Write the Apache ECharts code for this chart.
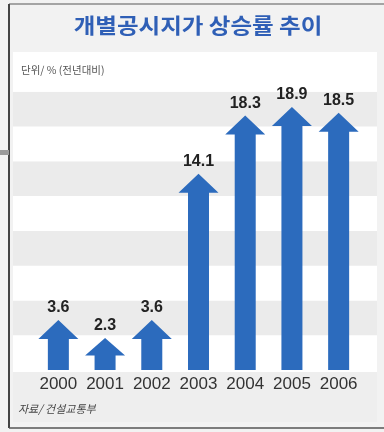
<!DOCTYPE html>
<html>
<head>
<meta charset="utf-8">
<script src="https://cdn.jsdelivr.net/npm/echarts@6/dist/echarts.min.js"></script>
<style>
html,body{margin:0;padding:0;background:#f2f2f2;}
#c{width:384px;height:432px;}
</style>
</head>
<body>
<div id="c"></div>
<script>
const years = ['2000','2001','2002','2003','2004','2005','2006'];
const rates = [3.6, 2.3, 3.6, 14.1, 18.3, 18.9, 18.5];
const titleText = '개별공시지가 상승률 추이';
const unitText = '단위/ % (전년대비)';
const sourceText = '자료/ 건설교통부';

const chart = echarts.init(document.getElementById('c'));
const TOP = 57, BOTTOM = 62;
const sans = '"Liberation Sans", Arial, sans-serif';
const kr = '"Noto Sans CJK KR", sans-serif';

chart.setOption({
  backgroundColor: '#f2f2f2',
  animation: false,
  graphic: [
    {type: 'rect', z: -10, shape: {x: 13, y: 52, width: 364, height: 320}, style: {fill: '#ffffff'}},
    {type: 'rect', z: -10, shape: {x: 13, y: 372, width: 364, height: 50}, style: {fill: '#eeeeee'}},
    {type: 'line', z: 10, shape: {x1: 9, y1: 4, x2: 384, y2: 4}, style: {stroke: '#8a8a8a', lineWidth: 1.5}},
    {type: 'line', z: 10, shape: {x1: 9, y1: 4, x2: 9, y2: 428}, style: {stroke: '#444444', lineWidth: 2}},
    {type: 'line', z: 10, shape: {x1: 9, y1: 428, x2: 384, y2: 428}, style: {stroke: '#555555', lineWidth: 1.5}},
    {type: 'rect', z: 10, shape: {x: 0, y: 150, width: 9, height: 5}, style: {fill: '#9a9a9a'}},
    {type: 'text', z: 10, x: 198, y: 25, scaleX: 1.12,
     style: {text: titleText, fill: '#2f5fb6', fontSize: 21, fontWeight: 'bold', fontFamily: kr, align: 'center', verticalAlign: 'middle'}},
    {type: 'text', z: 10, left: 21, top: 65, style: {text: unitText, fill: '#555555', fontSize: 10.5, fontFamily: kr}},
    {type: 'text', z: 10, left: 18, top: 403, style: {text: sourceText, fill: '#444444', fontSize: 11, fontStyle: 'italic', fontFamily: kr}}
  ],
  grid: [
    {left: 13, right: 7, top: TOP, bottom: BOTTOM},
    {left: 35, right: 22, top: TOP, bottom: BOTTOM}
  ],
  xAxis: [
    {gridIndex: 0, type: 'value', show: false, min: 0, max: 1},
    {gridIndex: 1, type: 'category', data: years,
     axisLine: {show: false}, axisTick: {show: false},
     axisLabel: {interval: 0, hideOverlap: false, color: '#333333', fontSize: 17, margin: 6, fontFamily: sans}}
  ],
  yAxis: [
    {gridIndex: 0, type: 'value', min: 0, max: 22.5, interval: 2.5,
     axisLine: {show: false}, axisTick: {show: false}, axisLabel: {show: false},
     splitLine: {show: false},
     splitArea: {show: true, areaStyle: {color: ['#ffffff', '#ebebeb']}}},
    {gridIndex: 1, type: 'value', min: 0, max: 22.5, show: false, splitLine: {show: false}}
  ],
  series: [{
    type: 'custom',
    xAxisIndex: 1, yAxisIndex: 1,
    data: rates.map((v, i) => [i, v]),
    renderItem: function (params, api) {
      const idx = api.value(0), val = api.value(1);
      const tip = api.coord([idx, val]);
      const base = api.coord([idx, 0]);
      const cx = tip[0], ty = tip[1], by = base[1];
      const sw = 10.5, hw = 20, hh = Math.min(19, (by - ty) * 0.55);
      return {
        type: 'group',
        children: [
          {type: 'polygon', shape: {points: [
            [cx - sw, by], [cx - sw, ty + hh], [cx - hw, ty + hh], [cx, ty],
            [cx + hw, ty + hh], [cx + sw, ty + hh], [cx + sw, by]
          ]}, style: {fill: '#2c6bbd'}},
          {type: 'text', x: cx, y: ty - 4, style: {
            text: val.toFixed(1), align: 'center', verticalAlign: 'bottom',
            fill: '#222222', fontSize: 16, fontWeight: 'bold', fontFamily: sans
          }}
        ]
      };
    }
  }]
});
</script>
</body>
</html>
